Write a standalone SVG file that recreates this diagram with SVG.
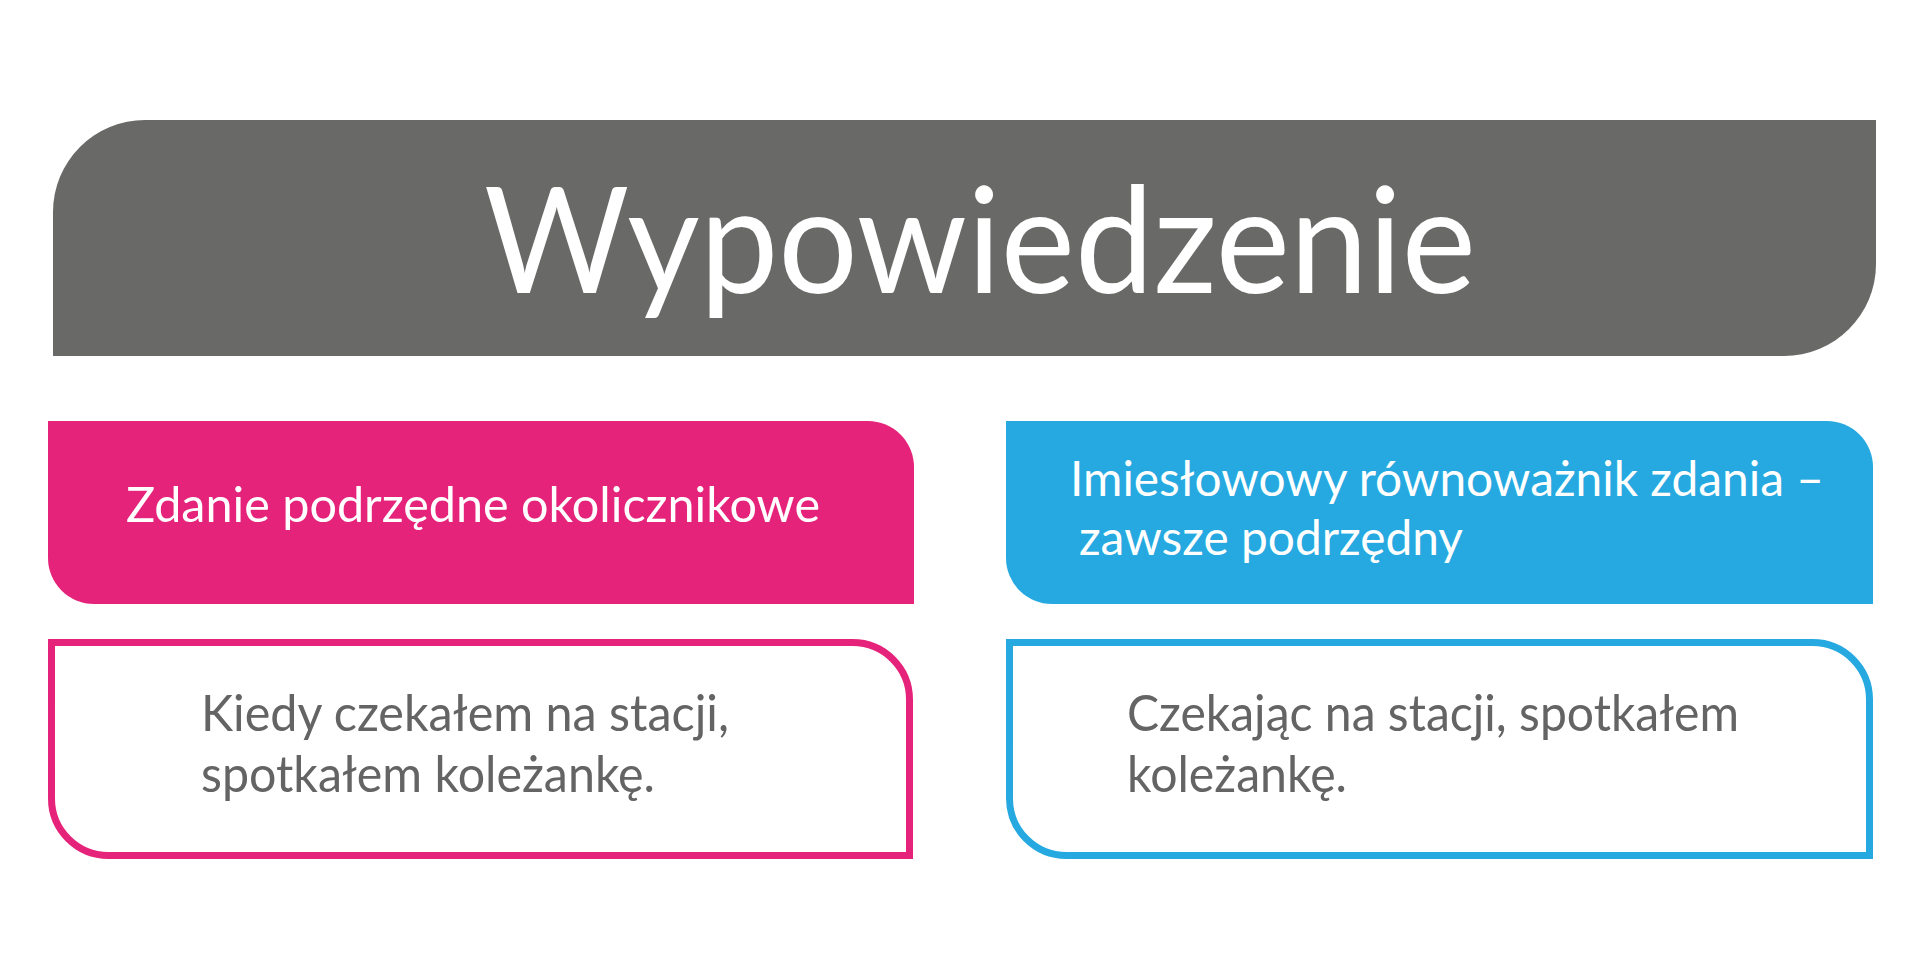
<svg xmlns="http://www.w3.org/2000/svg" width="1920" height="959" viewBox="0 0 1920 959">
<style>
.t{font-family:Lato,"Open Sans","Liberation Sans",sans-serif}
.w{fill:#ffffff}
.g{fill:#646464}
.hd{font-size:48px}
.bd{font-size:51px}
</style>
<rect width="1920" height="959" fill="#ffffff"/>
<g id="title">
<path d="M145,120 H1876 V264 A92,92 0 0 1 1784,356 H53 V212 A92,92 0 0 1 145,120 Z" fill="#696967"/>
<text class="t w" x="484" y="293" font-size="148" textLength="992" lengthAdjust="spacingAndGlyphs">Wypowiedzenie</text>
</g>
<g id="left-head">
<path d="M48,421 H868 A46,46 0 0 1 914,467 V604 H94 A46,46 0 0 1 48,558 Z" fill="#E6237A"/>
<text class="t w hd" x="126" y="522" textLength="694" lengthAdjust="spacingAndGlyphs">Zdanie podrzędne okolicznikowe</text>
</g>
<g id="left-example">
<path d="M51.5,642.5 H852 A57,57 0 0 1 909.5,700 V855.5 H109 A57,57 0 0 1 51.5,798 Z" fill="#ffffff" stroke="#E6237A" stroke-width="7"/>
<text class="t g bd" x="201" y="731" textLength="528" lengthAdjust="spacingAndGlyphs">Kiedy czekałem na stacji,</text>
<text class="t g bd" x="201" y="792" textLength="454" lengthAdjust="spacingAndGlyphs">spotkałem koleżankę.</text>
</g>
<g id="right-head">
<path d="M1006,421 H1827 A46,46 0 0 1 1873,467 V604 H1052 A46,46 0 0 1 1006,558 Z" fill="#25A9E0"/>
<text class="t w hd" x="1070" y="496" textLength="754" lengthAdjust="spacingAndGlyphs">Imiesłowowy równoważnik zdania –</text>
<text class="t w hd" x="1079" y="555" textLength="384" lengthAdjust="spacingAndGlyphs">zawsze podrzędny</text>
</g>
<g id="right-example">
<path d="M1009.5,642.5 H1812 A57,57 0 0 1 1869.5,700 V855.5 H1067 A57,57 0 0 1 1009.5,798 Z" fill="#ffffff" stroke="#25A9E0" stroke-width="7"/>
<text class="t g bd" x="1127" y="731" textLength="612" lengthAdjust="spacingAndGlyphs">Czekając na stacji, spotkałem</text>
<text class="t g bd" x="1127" y="792" textLength="220" lengthAdjust="spacingAndGlyphs">koleżankę.</text>
</g>
<g id="connectors"></g>
</svg>
